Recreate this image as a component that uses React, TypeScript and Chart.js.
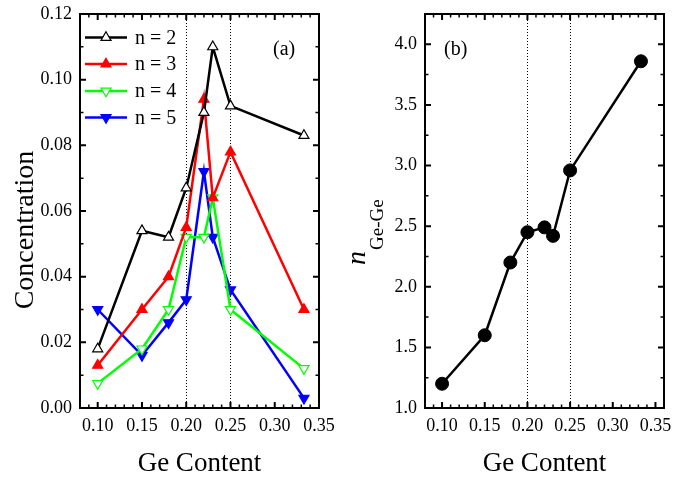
import React, { useEffect, useRef } from "react";
import { Chart, registerables } from "chart.js";

Chart.register(...registerables);

const FONT = "'Liberation Serif', 'Times New Roman', serif";

// ---- data ----
const geContent = [0.1, 0.15, 0.18, 0.2, 0.22, 0.23, 0.25, 0.333];
const conc_n2 = [0.018, 0.054, 0.052, 0.067, 0.09, 0.11, 0.092, 0.083];
const conc_n3 = [0.013, 0.03, 0.04, 0.055, 0.094, 0.064, 0.078, 0.03];
const conc_n4 = [0.0075, 0.018, 0.03, 0.052, 0.052, 0.064, 0.03, 0.012];
const conc_n5 = [0.03, 0.016, 0.026, 0.033, 0.072, 0.052, 0.036, 0.003];
const nGeGe = [1.2, 1.6, 2.2, 2.45, 2.49, 2.42, 2.96, 3.86];

const seriesLabels = ["n = 2", "n = 3", "n = 4", "n = 5"];
const xTickValues = [0.1, 0.15, 0.2, 0.25, 0.3, 0.35];
const concTickValues = [0, 0.02, 0.04, 0.06, 0.08, 0.1, 0.12];
const nTickValues = [1.0, 1.5, 2.0, 2.5, 3.0, 3.5, 4.0];
const dottedLines = [0.2, 0.25];

const seriesStyles = [
  { color: "#000000", fill: "#ffffff", down: false },
  { color: "#ff0000", fill: "#ff0000", down: false },
  { color: "#00ff00", fill: "#ffffff", down: true },
  { color: "#0000ff", fill: "#0000ff", down: true },
];

function drawTri(ctx: CanvasRenderingContext2D, x: number, y: number, r: number, down: boolean, fill: string, stroke: string) {
  ctx.save();
  ctx.beginPath();
  const base = down ? Math.PI : 0;
  for (let i = 0; i < 3; i++) {
    const a = base + (i * 2 * Math.PI) / 3;
    const px = x + Math.sin(a) * r;
    const py = y - Math.cos(a) * r;
    if (i === 0) ctx.moveTo(px, py);
    else ctx.lineTo(px, py);
  }
  ctx.closePath();
  ctx.fillStyle = fill;
  ctx.fill();
  ctx.lineWidth = 1.2;
  ctx.strokeStyle = stroke;
  ctx.stroke();
  ctx.restore();
}

function steps(min: number, max: number, step: number) {
  const out: number[] = [];
  const k0 = Math.ceil(min / step - 1e-9);
  for (let k = k0; k * step <= max + 1e-9; k++) out.push(k * step);
  return out;
}

function framePlugin(o: { xMinor: number; yMinor: number; yMajor: number[]; panel: string; panelX: number; extra?: (c: any) => void }) {
  return {
    id: "frame" + o.panel,
    beforeDatasetsDraw(chart: any) {
      const { ctx, chartArea: a, scales } = chart;
      ctx.save();
      ctx.strokeStyle = "#000";
      ctx.lineWidth = 1;
      ctx.setLineDash([1, 2]);
      dottedLines.forEach((v) => {
        const x = Math.round(scales.x.getPixelForValue(v)) + 0.5;
        ctx.beginPath();
        ctx.moveTo(x, a.top);
        ctx.lineTo(x, a.bottom);
        ctx.stroke();
      });
      ctx.restore();
    },
    afterDraw(chart: any) {
      const { ctx, chartArea: a, scales } = chart;
      const sx = scales.x;
      const sy = scales.y;
      ctx.save();
      ctx.strokeStyle = "#000";
      const xMin = steps(sx.min, sx.max, o.xMinor);
      const yMin = steps(sy.min, sy.max, o.yMinor);
      const isMajorX = (v: number) => xTickValues.some((t) => Math.abs(t - v) < 1e-6);
      const isMajorY = (v: number) => o.yMajor.some((t) => Math.abs(t - v) < 1e-6);
      xMin.forEach((v) => {
        const x = sx.getPixelForValue(v);
        const L = isMajorX(v) ? 6 : 3.5;
        ctx.lineWidth = isMajorX(v) ? 2 : 1.5;
        ctx.beginPath();
        ctx.moveTo(x, a.bottom);
        ctx.lineTo(x, a.bottom - L);
        ctx.moveTo(x, a.top);
        ctx.lineTo(x, a.top + L);
        ctx.stroke();
      });
      yMin.forEach((v) => {
        const y = sy.getPixelForValue(v);
        const L = isMajorY(v) ? 6 : 3.5;
        ctx.lineWidth = isMajorY(v) ? 2 : 1.5;
        ctx.beginPath();
        ctx.moveTo(a.left, y);
        ctx.lineTo(a.left + L, y);
        ctx.moveTo(a.right, y);
        ctx.lineTo(a.right - L, y);
        ctx.stroke();
      });
      ctx.lineWidth = 2;
      ctx.strokeRect(a.left, a.top, a.right - a.left, a.bottom - a.top);
      ctx.fillStyle = "#000";
      ctx.font = `20px ${FONT}`;
      ctx.textAlign = "left";
      ctx.textBaseline = "alphabetic";
      ctx.fillText(o.panel, o.panelX, 55);
      ctx.font = `27px ${FONT}`;
      ctx.textAlign = "center";
      ctx.fillText("Ge Content", (a.left + a.right) / 2, 471);
      if (o.extra) o.extra(chart);
      ctx.restore();
    },
  };
}

function zeroPad(s: any) {
  s.paddingLeft = 0;
  s.paddingRight = 0;
  s.paddingTop = 0;
  s.paddingBottom = 0;
}

function xScale(max: number) {
  return {
    type: "linear",
    min: 0.08,
    max,
    afterBuildTicks: (s: any) => {
      s.ticks = xTickValues.map((v) => ({ value: v }));
    },
    ticks: {
      callback: (v: any) => Number(v).toFixed(2),
      font: { family: FONT, size: 18 },
      color: "#000",
      padding: 7,
      maxRotation: 0,
      minRotation: 0,
      autoSkip: false,
    },
    grid: { display: false, drawTicks: false },
    border: { display: false },
    afterFit: (s: any) => {
      s.height = 69;
      zeroPad(s);
    },
  };
}

function yScale(min: number, max: number, vals: number[], digits: number, width: number) {
  return {
    type: "linear",
    min,
    max,
    afterBuildTicks: (s: any) => {
      s.ticks = vals.map((v) => ({ value: v }));
    },
    ticks: {
      callback: (v: any) => Number(v).toFixed(digits),
      font: { family: FONT, size: 18 },
      color: "#000",
      padding: 8,
      autoSkip: false,
    },
    grid: { display: false, drawTicks: false },
    border: { display: false },
    afterFit: (s: any) => {
      s.width = width;
      zeroPad(s);
    },
  };
}

export default function App() {
  const leftRef = useRef<HTMLCanvasElement>(null);
  const rightRef = useRef<HTMLCanvasElement>(null);

  useEffect(() => {
    const concSeries = [conc_n2, conc_n3, conc_n4, conc_n5];
    const left = new Chart(leftRef.current as HTMLCanvasElement, {
      type: "line",
      data: {
        datasets: concSeries.map((vals, i) => ({
          label: seriesLabels[i],
          data: geContent.map((x, j) => ({ x, y: vals[j] })),
          borderColor: seriesStyles[i].color,
          borderWidth: 2.5,
          pointStyle: "triangle",
          pointRotation: seriesStyles[i].down ? 180 : 0,
          pointRadius: 5.8,
          pointBackgroundColor: seriesStyles[i].fill,
          pointBorderColor: seriesStyles[i].color,
          pointBorderWidth: 1.2,
          tension: 0,
          fill: false,
        })),
      },
      options: {
        responsive: false,
        animation: false,
        layout: { padding: { top: 14, right: 17, left: 0, bottom: 0 } },
        plugins: { legend: { display: false }, tooltip: { enabled: false } },
        scales: {
          x: xScale(0.35) as any,
          y: yScale(0, 0.12, concTickValues, 2, 80) as any,
        },
      },
      plugins: [
        framePlugin({
          xMinor: 0.01,
          yMinor: 0.01,
          yMajor: concTickValues,
          panel: "(a)",
          panelX: 273,
          extra: (chart: any) => {
            const ctx = chart.ctx as CanvasRenderingContext2D;
            ctx.save();
            ctx.translate(33, 230);
            ctx.rotate(-Math.PI / 2);
            ctx.font = `28px ${FONT}`;
            ctx.textAlign = "center";
            ctx.textBaseline = "alphabetic";
            ctx.fillStyle = "#000";
            ctx.fillText("Concentration", 0, 0);
            ctx.restore();
            const rows = [37.5, 64, 91, 117.5];
            seriesLabels.forEach((lab, i) => {
              const y = rows[i];
              const st = seriesStyles[i];
              ctx.save();
              ctx.strokeStyle = st.color;
              ctx.lineWidth = 2.5;
              ctx.beginPath();
              ctx.moveTo(85, y);
              ctx.lineTo(127, y);
              ctx.stroke();
              drawTri(ctx, 106, y, 5.8, st.down, st.fill, st.color);
              ctx.fillStyle = "#000";
              ctx.font = `20px ${FONT}`;
              ctx.textAlign = "left";
              ctx.textBaseline = "alphabetic";
              ctx.fillText(lab, 135, y + 6);
              ctx.restore();
            });
          },
        }) as any,
      ],
    });

    const right = new Chart(rightRef.current as HTMLCanvasElement, {
      type: "line",
      data: {
        datasets: [
          {
            label: "nGeGe",
            data: geContent.map((x, j) => ({ x, y: nGeGe[j] })),
            borderColor: "#000",
            borderWidth: 2.5,
            pointStyle: "circle",
            pointRadius: 6.5,
            pointBackgroundColor: "#000",
            pointBorderColor: "#000",
            pointBorderWidth: 1,
            tension: 0,
            fill: false,
          },
        ],
      },
      options: {
        responsive: false,
        animation: false,
        layout: { padding: { top: 14, right: 9, left: 0, bottom: 0 } },
        plugins: { legend: { display: false }, tooltip: { enabled: false } },
        scales: {
          x: xScale(0.36) as any,
          y: yScale(1.0, 4.25, nTickValues, 1, 89) as any,
        },
      },
      plugins: [
        framePlugin({
          xMinor: 0.01,
          yMinor: 0.25,
          yMajor: nTickValues,
          panel: "(b)",
          panelX: 108,
          extra: (chart: any) => {
            const ctx = chart.ctx as CanvasRenderingContext2D;
            ctx.save();
            ctx.translate(29, 265);
            ctx.rotate(-Math.PI / 2);
            ctx.fillStyle = "#000";
            ctx.textAlign = "left";
            ctx.textBaseline = "alphabetic";
            ctx.font = `italic 28px ${FONT}`;
            ctx.fillText("n", 0, 0);
            const w = ctx.measureText("n").width;
            ctx.font = `19px ${FONT}`;
            ctx.fillText("Ge-Ge", w + 1, 18);
            ctx.restore();
          },
        }) as any,
      ],
    });

    return () => {
      left.destroy();
      right.destroy();
    };
  }, []);

  return (
    <div style={{ position: "fixed", left: 0, top: 0, width: 673, height: 477, background: "#fff" }}>
      <canvas ref={leftRef} width={336} height={477} style={{ position: "absolute", left: 0, top: 0, width: 336, height: 477 }} />
      <canvas ref={rightRef} width={337} height={477} style={{ position: "absolute", left: 336, top: 0, width: 337, height: 477 }} />
    </div>
  );
}
